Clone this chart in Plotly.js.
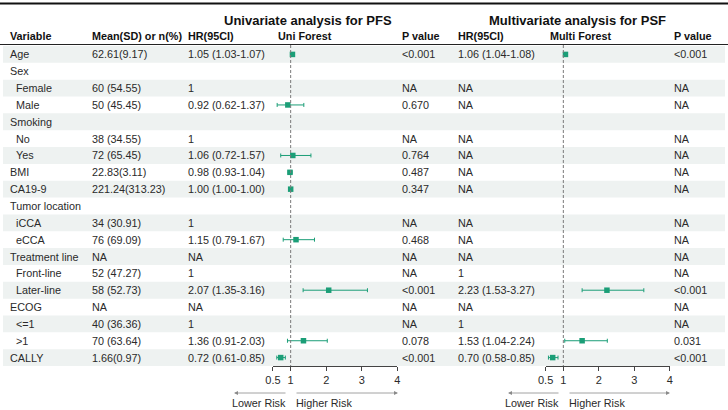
<!DOCTYPE html>
<html>
<head>
<meta charset="utf-8">
<script src="https://cdn.plot.ly/plotly-3.0.1.min.js"></script>
<style>html,body{margin:0;padding:0;background:#fff;}#chart{width:728px;height:410px;}</style>
</head>
<body>
<div id="chart"></div>
<script>
// ---- data ----
const variables = ["Age","Sex","Female","Male","Smoking","No","Yes","BMI","CA19-9","Tumor location","iCCA","eCCA","Treatment line","Front-line","Later-line","ECOG","<=1",">1","CALLY"];
const indented = [false,false,true,true,false,true,true,false,false,false,true,true,false,true,true,false,true,true,false];
const meanSD = ["62.61(9.17)","","60 (54.55)","50 (45.45)","","38 (34.55)","72 (65.45)","22.83(3.11)","221.24(313.23)","","34 (30.91)","76 (69.09)","NA","52 (47.27)","58 (52.73)","NA","40 (36.36)","70 (63.64)","1.66(0.97)"];
const uniHRText = ["1.05 (1.03-1.07)","","1","0.92 (0.62-1.37)","","1","1.06 (0.72-1.57)","0.98 (0.93-1.04)","1.00 (1.00-1.00)","","1","1.15 (0.79-1.67)","NA","1","2.07 (1.35-3.16)","NA","1","1.36 (0.91-2.03)","0.72 (0.61-0.85)"];
const uniP = ["<0.001","","NA","0.670","","NA","0.764","0.487","0.347","","NA","0.468","NA","NA","<0.001","NA","NA","0.078","<0.001"];
const multiHRText = ["1.06 (1.04-1.08)","","NA","NA","","NA","NA","NA","NA","","NA","NA","NA","1","2.23 (1.53-3.27)","NA","1","1.53 (1.04-2.24)","0.70 (0.58-0.85)"];
const multiP = ["<0.001","","NA","NA","","NA","NA","NA","NA","","NA","NA","NA","NA","<0.001","NA","NA","0.031","<0.001"];

const uniEst = [1.05,null,null,0.92,null,null,1.06,0.98,1.00,null,null,1.15,null,null,2.07,null,null,1.36,0.72];
const uniLo  = [1.03,null,null,0.62,null,null,0.72,0.93,1.00,null,null,0.79,null,null,1.35,null,null,0.91,0.61];
const uniHi  = [1.07,null,null,1.37,null,null,1.57,1.04,1.00,null,null,1.67,null,null,3.16,null,null,2.03,0.85];
const multiEst = [1.06,null,null,null,null,null,null,null,null,null,null,null,null,null,2.23,null,null,1.53,0.70];
const multiLo  = [1.04,null,null,null,null,null,null,null,null,null,null,null,null,null,1.53,null,null,1.04,0.58];
const multiHi  = [1.08,null,null,null,null,null,null,null,null,null,null,null,null,null,3.27,null,null,2.24,0.85];

const tickVals = [0.5,1,2,3,4];
const tickText = ["0.5","1","2","3","4"];
const colHeaders = ["Variable","Mean(SD) or n(%)","HR(95CI)","Uni Forest","P value","HR(95CI)","Multi Forest","P value"];
const groupHeaders = ["Univariate analysis for PFS","Multivariate analysis for PSF"];

// ---- layout helpers ----
const W = 728, H = 410;
const px = x => x / W;
const py = y => 1 - y / H;
const FONT = "Liberation Sans, Arial, Helvetica, sans-serif";
const TXT = "#2a2a2a";
const GREEN = "#1b9e77";
const FS = 10.8;

const colX = [8, 90, 186, 276, 400, 456, 548, 672];

const annotations = [];
const shapes = [];

// row shading
variables.forEach((v, i) => {
  if (i % 2 === 0) {
    shapes.push({type:"rect", xref:"paper", yref:"y", x0:px(3), x1:px(725), y0:i-0.5, y1:i+0.5,
      fillcolor:"#eef2f1", line:{width:0}, layer:"below"});
  }
});

// table text
function addText(x, i, t, bold) {
  if (t === "") return;
  annotations.push({xref:"paper", yref:"y", x:px(x), y:i, text: bold ? "<b>"+t+"</b>" : t,
    showarrow:false, xanchor:"left", yanchor:"middle",
    font:{family:FONT, size:FS, color:TXT}});
}
variables.forEach((v, i) => {
  addText(indented[i] ? colX[0] + 6 : colX[0], i, v.replace("<","&lt;"));
  addText(colX[1], i, meanSD[i]);
  addText(colX[2], i, uniHRText[i]);
  addText(colX[4], i, uniP[i].replace("<","&lt;"));
  addText(colX[5], i, multiHRText[i]);
  addText(colX[7], i, multiP[i].replace("<","&lt;"));
});

// column headers
colHeaders.forEach((h, k) => {
  annotations.push({xref:"paper", yref:"paper", x:px(colX[k]), y:py(36), text:"<b>"+h+"</b>",
    showarrow:false, xanchor:"left", yanchor:"middle", font:{family:FONT, size:FS, color:"#111"}});
});
// group headers
[308, 577].forEach((cx, k) => {
  annotations.push({xref:"paper", yref:"paper", x:px(cx), y:py(20), text:"<b>"+groupHeaders[k]+"</b>",
    showarrow:false, xanchor:"center", yanchor:"middle", font:{family:FONT, size:13, color:"#111"}});
});

// horizontal rules
shapes.push({type:"line", xref:"paper", yref:"paper", x0:0, x1:1, y0:py(3.5), y1:py(3.5), line:{color:"#111", width:2}});
shapes.push({type:"line", xref:"paper", yref:"paper", x0:0, x1:1, y0:py(44.5), y1:py(44.5), line:{color:"#222", width:1}});

// reference lines at HR = 1
["x","x2"].forEach(xr => {
  shapes.push({type:"line", xref:xr, yref:"paper", x0:1, x1:1, y0:py(45), y1:py(366),
    line:{color:"#7a7a7a", width:1, dash:"3px,2px"}});
});

// risk arrows and labels
function riskArrows(leftHead, leftTail, rightTail, rightHead) {
  const ay = py(393);
  annotations.push({xref:"paper", yref:"paper", x:px(leftHead), y:ay, ax:leftTail-leftHead, ay:0, text:"",
    showarrow:true, arrowhead:2, arrowsize:1, arrowwidth:0.8, arrowcolor:"#8a8a8a"});
  annotations.push({xref:"paper", yref:"paper", x:px(rightHead), y:ay, ax:rightTail-rightHead, ay:0, text:"",
    showarrow:true, arrowhead:2, arrowsize:1, arrowwidth:0.8, arrowcolor:"#8a8a8a"});
  annotations.push({xref:"paper", yref:"paper", x:px(leftTail+1), y:py(403), text:"Lower Risk", showarrow:false,
    xanchor:"right", yanchor:"middle", font:{family:FONT, size:FS, color:TXT}});
  annotations.push({xref:"paper", yref:"paper", x:px(rightTail-1), y:py(403), text:"Higher Risk", showarrow:false,
    xanchor:"left", yanchor:"middle", font:{family:FONT, size:FS, color:TXT}});
}
riskArrows(234, 287, 295, 398);
riskArrows(508, 560, 568, 670);

// ---- traces ----
const rows = variables.map((v, i) => i);
function forestTrace(est, lo, hi, xa) {
  return {
    type:"scatter", mode:"markers", xaxis:xa, yaxis:"y",
    x: est, y: rows,
    marker:{symbol:"square", size:5.5, color:GREEN},
    error_x:{type:"data", symmetric:false,
      array: est.map((e, i) => e === null ? null : hi[i] - e),
      arrayminus: est.map((e, i) => e === null ? null : e - lo[i]),
      color:GREEN, thickness:1, width:2},
    cliponaxis:false, hoverinfo:"skip"
  };
}

const axisCommon = {
  range:[0.5, 4], tickvals:tickVals, ticktext:tickText, ticks:"outside", ticklen:4, tickwidth:1,
  tickcolor:"#444", showline:true, linecolor:"#444", linewidth:1, showgrid:false, zeroline:false,
  tickfont:{family:FONT, size:11, color:TXT}, fixedrange:true, anchor:"y"
};

const layout = {
  width:W, height:H, margin:{l:0, r:0, t:0, b:0},
  paper_bgcolor:"#fff", plot_bgcolor:"rgba(0,0,0,0)", showlegend:false,
  xaxis: Object.assign({}, axisCommon, {domain:[px(272.9), px(397.3)]}),
  xaxis2: Object.assign({}, axisCommon, {domain:[px(545.6), px(669.7)]}),
  yaxis:{domain:[py(366), py(46)], range:[18.5, -0.5], visible:false, fixedrange:true},
  shapes: shapes, annotations: annotations
};

Plotly.newPlot("chart", [forestTrace(uniEst, uniLo, uniHi, "x"), forestTrace(multiEst, multiLo, multiHi, "x2")],
  layout, {staticPlot:true, displayModeBar:false});
</script>
</body>
</html>
